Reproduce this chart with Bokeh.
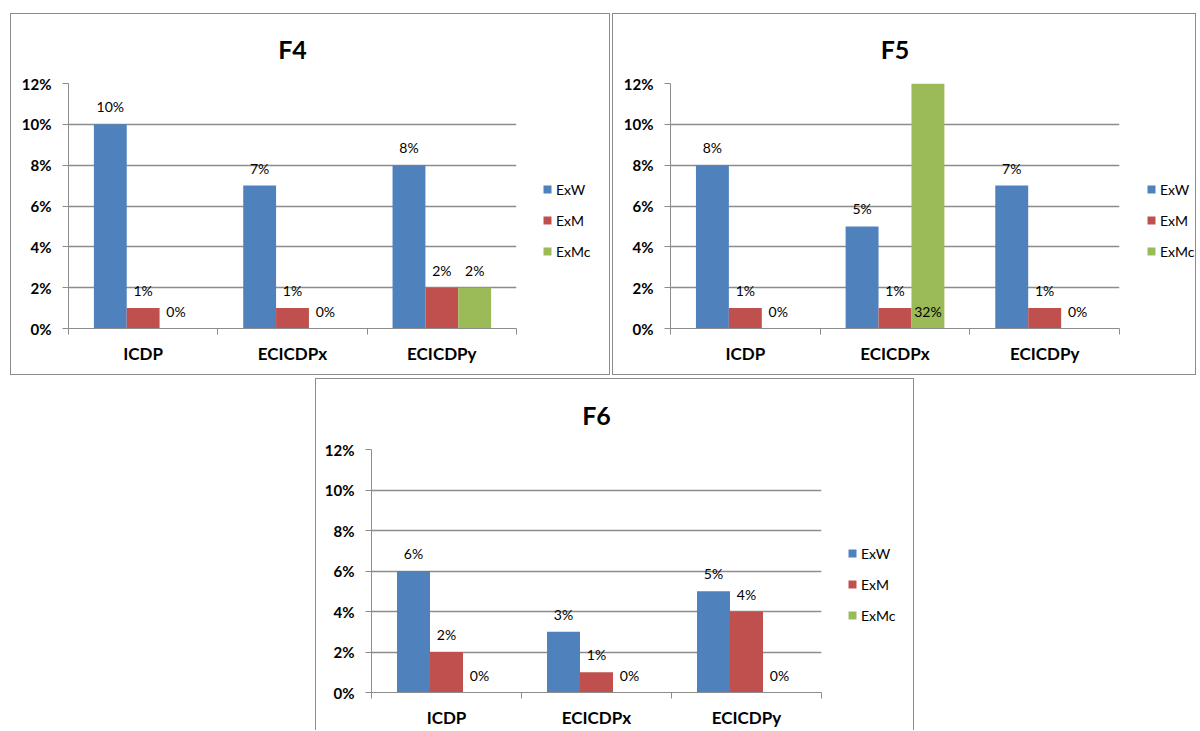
from bokeh.plotting import figure
from bokeh.layouts import column, row
from bokeh.models import (ColumnDataSource, FixedTicker, PrintfTickFormatter,
                          Legend, LegendItem, Spacer, Range1d)
from bokeh.embed import file_html
from bokeh.resources import INLINE
from bokeh.core.properties import value

# ---------------- data ----------------
categories = ["ICDP", "ECICDPx", "ECICDPy"]
series = ["ExW", "ExM", "ExMc"]
colors = ["#4F81BD", "#C0504D", "#9BBB59"]

f4_exw = [10, 7, 8]
f4_exm = [1, 1, 2]
f4_exmc = [0, 0, 2]

f5_exw = [8, 5, 7]
f5_exm = [1, 1, 1]
f5_exmc = [0, 32, 0]

f6_exw = [6, 3, 5]
f6_exm = [2, 1, 4]
f6_exmc = [0, 0, 0]

y_ticks = [0, 2, 4, 6, 8, 10, 12]
y_max = 12

FONT = "Lato"
BORDER = "1px solid #8c8c8c"


def make_panel(title, data, w, h, ml, fw, mt, fh, leg_x, leg_y, border_bottom=True):
    bb = 1 if border_bottom else 0
    main_w = 1 + ml + fw + 5
    mb = h - 1 - bb - mt - fh
    p = figure(width=main_w, height=h, min_border_left=ml, min_border_right=5,
               min_border_top=mt, min_border_bottom=mb, sizing_mode="fixed",
               x_range=Range1d(0, len(categories)), y_range=Range1d(0, y_max),
               output_backend="svg", toolbar_location=None, title=title)
    p.title.align = "center"
    p.title.vertical_align = "top"
    p.title.text_font = FONT
    p.title.text_font_size = "25px"
    p.title.text_font_style = "bold"
    p.title.text_color = "black"
    p.title.standoff = 35
    p.outline_line_color = None
    p.background_fill_color = "white"
    p.border_fill_color = "white"
    styles = {"border-left": BORDER, "border-top": BORDER, "box-sizing": "border-box"}
    if border_bottom:
        styles["border-bottom"] = BORDER
    p.styles = styles

    width = 0.22
    offsets = [-width, 0.0, width]
    for si, (name, vals) in enumerate(zip(series, data)):
        xs = [i + 0.5 + offsets[si] for i in range(len(categories))]
        src = ColumnDataSource(dict(
            x=xs, top=vals,
            ly=[v if v <= y_max else 0 for v in vals],
            lbl=["%d%%" % v for v in vals]))
        p.vbar(x="x", top="top", bottom=0, width=width, source=src,
               fill_color=colors[si], line_color=None)
        p.text(x="x", y="ly", text="lbl", source=src, text_align="center",
               text_baseline="bottom", y_offset=-9, text_font=value(FONT),
               text_font_size="14px", text_color="black")

    # axes
    p.yaxis.ticker = FixedTicker(ticks=y_ticks)
    p.yaxis.formatter = PrintfTickFormatter(format="%d%%")
    p.yaxis.major_label_text_font = FONT
    p.yaxis.major_label_text_font_size = "15px"
    p.yaxis.major_label_text_font_style = "bold"
    p.yaxis.major_label_text_color = "black"
    p.yaxis.major_tick_out = 6
    p.yaxis.major_tick_in = 0
    p.yaxis.minor_tick_out = 0
    p.yaxis.minor_tick_in = 0
    p.yaxis.major_label_standoff = 11
    p.yaxis.axis_line_color = "#8c8c8c"
    p.yaxis.major_tick_line_color = "#8c8c8c"

    p.xaxis.ticker = FixedTicker(ticks=[i + 0.5 for i in range(len(categories))],
                                 minor_ticks=list(range(len(categories) + 1)))
    p.xaxis.major_label_overrides = {i + 0.5: c for i, c in enumerate(categories)}
    p.xaxis.major_label_text_font = FONT
    p.xaxis.major_label_text_font_size = "17px"
    p.xaxis.major_label_text_font_style = "bold"
    p.xaxis.major_label_text_color = "black"
    p.xaxis.major_tick_out = 0
    p.xaxis.major_tick_in = 0
    p.xaxis.minor_tick_out = 6
    p.xaxis.minor_tick_in = 0
    p.xaxis.minor_tick_line_color = "#8c8c8c"
    p.xaxis.major_label_standoff = 8
    p.xaxis.axis_line_color = "#8c8c8c"

    p.xgrid.grid_line_color = None
    p.ygrid.grid_line_color = "#8c8c8c"
    p.ygrid.grid_line_width = 1.3

    # legend in a companion figure at the panel's right side
    lw = w - main_w
    q = figure(width=lw, height=h, min_border=0, sizing_mode="fixed",
               x_axis_location=None, y_axis_location=None,
               x_range=Range1d(0, 1), y_range=Range1d(0, 1),
               output_backend="svg", toolbar_location=None)
    q.outline_line_color = None
    q.grid.grid_line_color = None
    q.background_fill_color = "white"
    q.border_fill_color = "white"
    qstyles = {"border-right": BORDER, "border-top": BORDER, "box-sizing": "border-box"}
    if border_bottom:
        qstyles["border-bottom"] = BORDER
    q.styles = qstyles
    rs = []
    for si, name in enumerate(series):
        # zero-height placeholder bar: only its style is used by the legend swatch
        rs.append(q.vbar(x=[0.5], top=[0], bottom=[0], width=0.1,
                         fill_color=colors[si], line_color=None))
    legend = Legend(items=[LegendItem(label=s, renderers=[r]) for s, r in zip(series, rs)],
                    location=(leg_x, leg_y), orientation="vertical")
    legend.border_line_color = None
    legend.background_fill_alpha = 0
    legend.padding = 0
    legend.margin = 0
    legend.spacing = 11
    legend.glyph_width = 10
    legend.glyph_height = 10
    legend.label_height = 20
    legend.label_standoff = 4
    legend.label_text_font = FONT
    legend.label_text_font_size = "14px"
    legend.label_text_color = "black"
    q.add_layout(legend, "center")
    return row(p, q)


p4 = make_panel("F4", [f4_exw, f4_exm, f4_exmc], w=600, h=362, ml=57, fw=447, mt=69, fh=243,
                leg_x=22, leg_y=67)
p5 = make_panel("F5", [f5_exw, f5_exm, f5_exmc], w=584, h=362, ml=57, fw=448, mt=69, fh=243,
                leg_x=23, leg_y=67)
p6 = make_panel("F6", [f6_exw, f6_exm, f6_exmc], w=599, h=352, ml=55, fw=449, mt=70, fh=242,
                leg_x=22, leg_y=67, border_bottom=False)

layout = column(
    Spacer(width=10, height=13),
    row(Spacer(width=10, height=10), p4, Spacer(width=2, height=10), p5),
    Spacer(width=10, height=3),
    row(Spacer(width=315, height=10), p6),
)

open("out.html", "w").write(file_html(layout, INLINE))
